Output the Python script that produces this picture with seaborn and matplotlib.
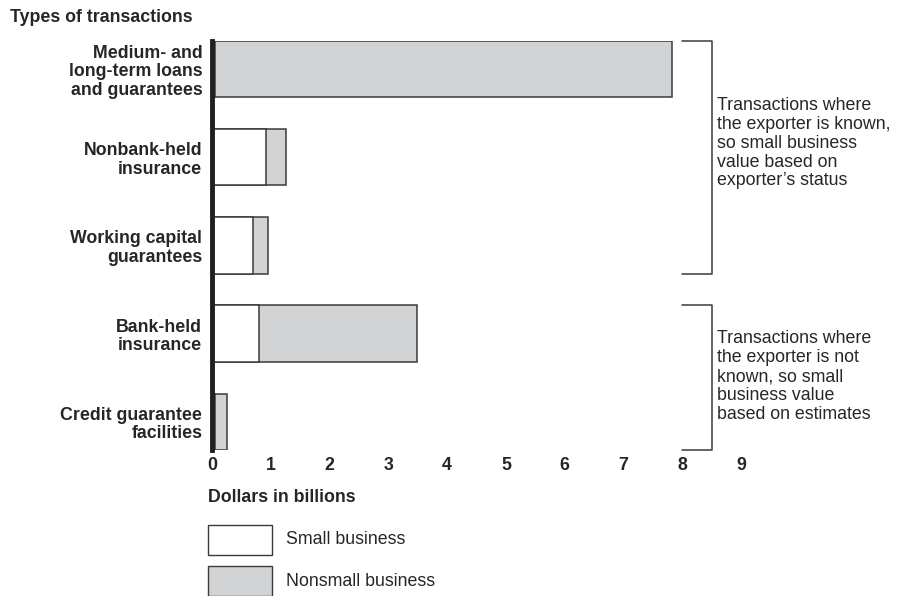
import pandas as pd
import matplotlib.pyplot as plt
import seaborn as sns
from matplotlib.patches import Rectangle

categories = ['Medium- and\nlong-term loans\nand guarantees', 'Nonbank-held\ninsurance',
              'Working capital\nguarantees', 'Bank-held\ninsurance', 'Credit guarantee\nfacilities']
small_business = [0.05, 0.92, 0.70, 0.80, 0.05]
total_value = [7.82, 1.26, 0.95, 3.49, 0.25]
x_ticks = [0, 1, 2, 3, 4, 5, 6, 7, 8, 9]
note_known = 'Transactions where\nthe exporter is known,\nso small business\nvalue based on\nexporter\u2019s status'
note_unknown = 'Transactions where\nthe exporter is not\nknown, so small\nbusiness value\nbased on estimates'

df = pd.DataFrame({'type': categories, 'small': small_business, 'total': total_value})

sns.set_style('white')
plt.rcParams['font.family'] = ['Liberation Sans', 'DejaVu Sans']

grey = '#d1d3d4'
edge = '#3a3a3a'
fs = 12.8

fig = plt.figure(figsize=(9.15, 5.96), dpi=100)
ax = fig.add_axes([212 / 915, 1 - 450 / 596, (741 - 212) / 915, (450 - 40.8) / 596])

sns.barplot(data=df, x='total', y='type', color=grey, edgecolor=edge, linewidth=1.1,
            width=0.64, ax=ax)
sns.barplot(data=df, x='small', y='type', color='white', edgecolor=edge, linewidth=1.1,
            width=0.64, ax=ax)

ax.set_xlim(0, 9)
ax.set_ylim(4.32, -0.32)
ax.set_xticks(x_ticks)
ax.set_xticklabels([str(t) for t in x_ticks], fontsize=fs, fontweight='bold')
ax.set_yticklabels(categories, fontsize=fs, fontweight='bold', linespacing=1.12)
ax.tick_params(axis='y', length=0, pad=7)
ax.tick_params(axis='x', length=0, pad=5)
ax.set_xlabel('')
ax.set_ylabel('')
for s in ['top', 'right', 'bottom']:
    ax.spines[s].set_visible(False)
ax.spines['left'].set_linewidth(3.5)
ax.spines['left'].set_color('#231f20')
ax.spines['left'].set_zorder(5)

# brackets grouping the transaction types
for y0, y1 in [(-0.32, 2.32), (2.68, 4.32)]:
    ax.plot([7.99, 8.5, 8.5, 7.99], [y0, y0, y1, y1], color=edge, lw=1.1, clip_on=False)
ax.text(8.59, 0.84, note_known, fontsize=fs, va='center', ha='left', linespacing=1.15)
ax.text(8.59, 3.49, note_unknown, fontsize=fs, va='center', ha='left', linespacing=1.15)

fig.text(10 / 915, 1 - 17 / 596, 'Types of transactions', fontsize=fs, fontweight='bold',
         va='center', ha='left')
fig.text(208 / 915, 1 - 497 / 596, 'Dollars in billions', fontsize=fs, fontweight='bold',
         va='center', ha='left')

# legend
for (yt, fc, lab) in [(525, 'white', 'Small business'), (566, grey, 'Nonsmall business')]:
    fig.patches.append(Rectangle((208 / 915, 1 - (yt + 30) / 596), 64 / 915, 30 / 596,
                                 transform=fig.transFigure, facecolor=fc, edgecolor=edge,
                                 linewidth=1.0))
    fig.text(286 / 915, 1 - (yt + 15) / 596, lab, fontsize=fs, va='center', ha='left')

fig.savefig('out.png', dpi=100)
